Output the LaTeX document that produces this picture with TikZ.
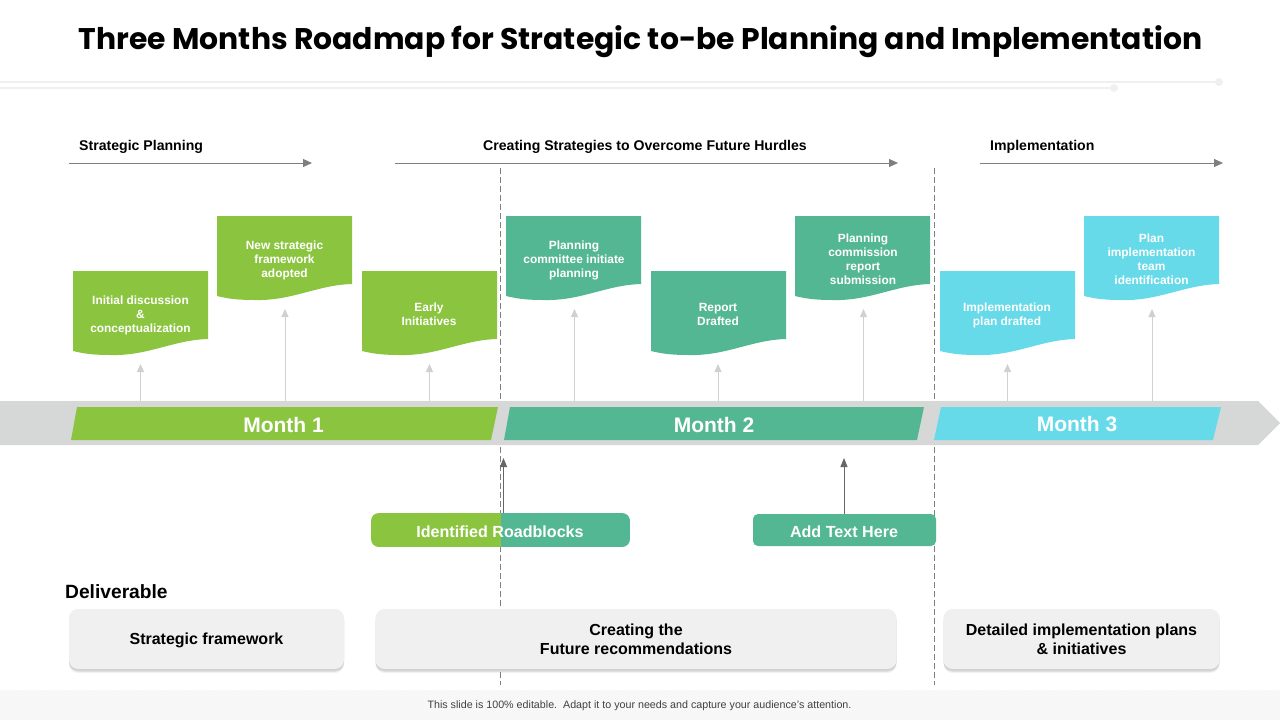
\documentclass[tikz,border=0pt]{standalone}
\usepackage{fontspec}
\setmainfont{Liberation Sans}
\newfontfamily\titlefont{Poppins}
\usetikzlibrary{arrows.meta,shadows,patterns}
\definecolor{cgreen}{HTML}{8BC53F}
\definecolor{cteal}{HTML}{54B794}
\definecolor{ccyan}{HTML}{66DAE8}
\definecolor{cbar}{HTML}{D6D7D7}
\definecolor{cbox}{HTML}{F0F0F0}
\definecolor{cline}{HTML}{7F7F7F}
\definecolor{cup}{HTML}{D0D0D0}
\definecolor{crule}{HTML}{F0F0F0}
\tikzset{
  x=1pt,y=-1pt,
  flagtext/.style={text=white,font=\fontsize{11.9}{14}\selectfont\bfseries,align=center,inner sep=0pt},
  phase/.style={font=\fontsize{14.1}{17}\selectfont\bfseries,anchor=west,inner sep=0pt},
  phasearrow/.style={draw=cline,line width=0.9pt,-{Triangle[length=9pt,width=8pt]}},
  divider/.style={draw=cline,line width=0.9pt,dash pattern=on 6pt off 3pt},
  uparrow/.style={draw=cup,line width=0.9pt,-{Triangle[length=8pt,width=7pt]}},
  blockarrow/.style={draw=black!60,line width=0.9pt,-{Triangle[length=9pt,width=7pt]}},
  monthtext/.style={text=white,font=\fontsize{21}{25}\selectfont\bfseries,inner sep=0pt},
  pilltext/.style={text=white,font=\fontsize{16.1}{20}\selectfont\bfseries,inner sep=0pt},
  deliv/.style={fill=cbox,rounded corners=9pt,draw=none,inner sep=0pt,
    drop shadow={shadow xshift=0pt,shadow yshift=-4pt,opacity=0.05,fill=black},
    drop shadow={shadow xshift=0pt,shadow yshift=-2.8pt,opacity=0.07,fill=black},
    drop shadow={shadow xshift=0pt,shadow yshift=-1.5pt,opacity=0.08,fill=black},
    font=\fontsize{16}{19}\selectfont\bfseries,align=center},
}
\newcommand{\flagshape}[3]{% x, top y, colour
  \begin{scope}[shift={(#1,#2)}]
  \fill[#3] (0,0) -- (135,0) -- (135,68)
    .. controls (100,69) and (75,85) .. (38,84)
    .. controls (22,84) and (12,83) .. (0,80) -- cycle;
  \end{scope}
}
\begin{document}
\begin{tikzpicture}
\useasboundingbox (0,0) rectangle (1280,720);
\fill[white] (0,0) rectangle (1280,720);
% title and top rules
\node[inner sep=0pt,font=\titlefont\fontsize{29.85}{40}\selectfont\bfseries] (title) at (640.5,41.5) {Three Months Roadmap for Strategic to-be Planning and Implementation};
\coordinate (r1e) at (1219,82); \coordinate (r2e) at (1114,88);
\draw[draw=crule,line width=2pt] (0,82) -- (r1e);
\draw[draw=crule,line width=2pt] (0,88) -- (r2e);
\fill[crule] (r1e) circle (4) (r2e) circle (4);
% phases
\node[phase] (p1) at (79,146.5) {Strategic Planning};
\node[phase] (p2) at (483,146.5) {Creating Strategies to Overcome Future Hurdles};
\node[phase] (p3) at (990,146.5) {Implementation};
\coordinate (a1s) at (69,163); \coordinate (a1e) at (312,163);
\coordinate (a2s) at (395,163); \coordinate (a2e) at (898,163);
\coordinate (a3s) at (980,163); \coordinate (a3e) at (1223,163);
\draw[phasearrow] (a1s) -- (a1e);
\draw[phasearrow] (a2s) -- (a2e);
\draw[phasearrow] (a3s) -- (a3e);
% dividers
\coordinate (d1s) at (500.5,168); \coordinate (d1e) at (500.5,685);
\coordinate (d2s) at (934.5,168); \coordinate (d2e) at (934.5,685);
\draw[divider] (d1s) -- (d1e);
\draw[divider] (d2s) -- (d2e);
% bar
\fill[cbar] (0,401) -- (1258,401) -- (1280,423) -- (1258,445) -- (0,445) -- cycle;
\fill[cgreen] (77,407) -- (498,407) -- (491,440) -- (71,440) -- cycle;
\fill[cteal] (510,407) -- (924,407) -- (917,440) -- (504,440) -- cycle;
\fill[ccyan] (941,407) -- (1221,407) -- (1213,440) -- (934,440) -- cycle;
\node[monthtext] (m1) at (283.5,424.5) {Month 1};
\node[monthtext] (m2) at (714,424.5) {Month 2};
\node[monthtext] (m3) at (1077,424.5) {Month 3};
% flags
\flagshape{73}{271}{cgreen}
\flagshape{217}{216}{cgreen}
\flagshape{362}{271}{cgreen}
\flagshape{506}{216}{cteal}
\flagshape{651}{271}{cteal}
\flagshape{795}{216}{cteal}
\flagshape{940}{271}{ccyan}
\flagshape{1084}{216}{ccyan}
\node[flagtext] (f1) at (140.5,315.5) {Initial discussion\\\&\\conceptualization};
\node[flagtext] (f2) at (284.5,260.5) {New strategic\\framework\\adopted};
\node[flagtext] (f3) at (429,314.5) {Early\\Initiatives};
\node[flagtext] (f4) at (574,260.5) {Planning\\committee initiate\\planning};
\node[flagtext] (f5) at (718,314) {Report\\Drafted};
\node[flagtext] (f6) at (863,259.5) {Planning\\commission\\report\\submission};
\node[flagtext] (f7) at (1007,315.5) {Implementation\\plan drafted};
\node[flagtext] (f8) at (1151.5,259.5) {Plan\\implementation\\team\\identification};
% up arrows
\foreach \n/\x/\t in {u1/140.5/364,u2/285/309,u3/429.5/364,u4/574.5/309,u5/718/364,u6/863.5/309,u7/1007.5/364,u8/1152/309}{
  \coordinate (\n s) at (\x,401); \coordinate (\n e) at (\x,\t);
  \draw[uparrow] (\n s) -- (\n e);
}
% pills
\begin{scope}
\clip[rounded corners=8pt] (371,513) rectangle (630,547);
\fill[cgreen] (371,513) rectangle (501,547);
\fill[cteal] (501,513) rectangle (630,547);
\end{scope}
\node[pilltext] (pill1) at (500,531.5) {Identified Roadblocks};
\fill[cteal,rounded corners=5pt] (753,514) rectangle (936,546);
\node[pilltext] (pill2) at (844,531.5) {Add Text Here};
\coordinate (b1s) at (503.5,513); \coordinate (b1e) at (503.5,458);
\coordinate (b2s) at (844,514); \coordinate (b2e) at (844,458);
\draw[blockarrow] (b1s) -- (b1e);
\draw[blockarrow] (b2s) -- (b2e);
% deliverables
\node[inner sep=0pt,anchor=west,font=\fontsize{19.2}{22}\selectfont\bfseries] (dl) at (65,591.5) {Deliverable};
\node[deliv,minimum width=275pt,minimum height=60pt,text height=14.5pt,text depth=3pt] (d1) at (206.5,639) {Strategic framework};
\node[deliv,minimum width=521pt,minimum height=60pt] (d2) at (636,639) {\rule{0pt}{13pt}Creating the\\Future recommendations};
\node[deliv,minimum width=276pt,minimum height=60pt] (d3) at (1081.5,639) {\rule{0pt}{13pt}Detailed implementation plans\\\& initiatives};
% footer
\fill[black!2] (0,690) rectangle (1280,720);
\fill[pattern={north east lines},pattern color=black!4] (0,690) rectangle (1280,720);
\node[inner sep=0pt,text=black!75,font=\fontsize{10.7}{13}\selectfont] (foot) at (639.5,705.5) {This slide is 100\% editable.\ \ Adapt it to your needs and capture your audience's attention.};
\end{tikzpicture}
\end{document}
